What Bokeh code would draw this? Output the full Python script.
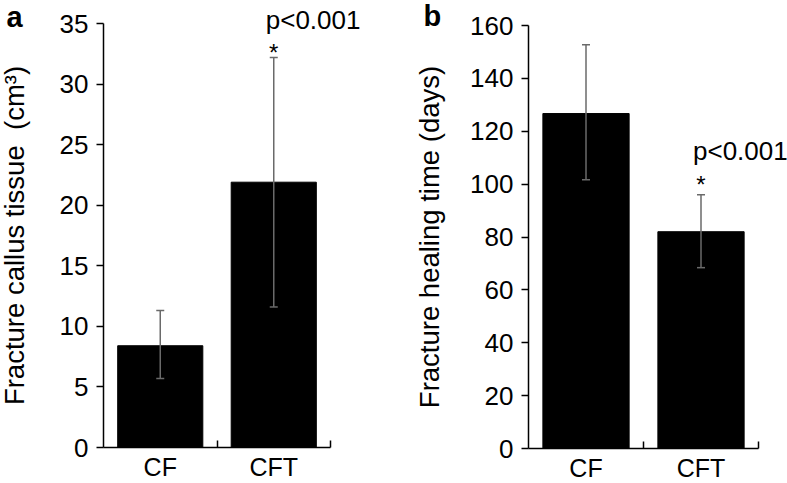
from bokeh.plotting import figure
from bokeh.models import (Range1d, FixedTicker, Whisker, TeeHead, Label,
                          ColumnDataSource, LinearAxis)
from bokeh.layouts import row
from bokeh.embed import file_html
from bokeh.resources import INLINE

# ---- data ----
categories = ["CF", "CFT"]
callus_mean = [8.4, 21.9]
callus_lower = [5.7, 11.6]
callus_upper = [11.3, 32.2]
callus_ticks = [0, 5, 10, 15, 20, 25, 30, 35]

healing_mean = [126.7, 82.0]
healing_lower = [101.7, 68.4]
healing_upper = [152.7, 96.0]
healing_ticks = [0, 20, 40, 60, 80, 100, 120, 140, 160]

p_text = "p<0.001"
star_text = "*"

FONT = "Liberation Sans"
ERR = "#6a6a6a"
H = 483


def panel(letter, ylabel, means, lower, upper, ticks, width, left, right, top,
          bottom, letter_dx, letter_dy, label_standoff, star_dy, p_dy):
    n = len(categories)
    xs = [i + 0.5 for i in range(n)]
    ymax = ticks[-1]
    # frame covers the whole canvas; axes are pinned at x=0 / y=0
    ppx = (width - left - right) / n
    ppy = (H - top - bottom) / ymax
    x_range = Range1d(-left / ppx, n + right / ppx)
    y_range = Range1d(-bottom / ppy, ymax + top / ppy)

    src = ColumnDataSource(dict(x=xs, top=means, lower=lower, upper=upper))
    p = figure(width=width, height=H, output_backend="svg", toolbar_location=None,
               x_range=x_range, y_range=y_range, min_border=0,
               x_axis_location=None, y_axis_location=None)
    p.outline_line_color = None
    p.grid.visible = False
    p.background_fill_color = "white"
    p.border_fill_color = "white"

    p.vbar(x="x", top="top", width=0.75, source=src, fill_color="black",
           line_color="black")
    w = Whisker(base="x", upper="upper", lower="lower", source=src,
                line_color=ERR, line_width=1.5, level="overlay",
                upper_head=TeeHead(size=8, line_color=ERR, line_width=1.5),
                lower_head=TeeHead(size=8, line_color=ERR, line_width=1.5))
    p.add_layout(w)

    xa = LinearAxis(fixed_location=0, bounds=(0, n))
    xa.ticker = FixedTicker(ticks=xs, minor_ticks=[i + 1 for i in range(n)])
    xa.major_label_overrides = {x: c for x, c in zip(xs, categories)}
    xa.major_tick_in = 0
    xa.major_tick_out = 0
    xa.minor_tick_in = 7
    xa.minor_tick_out = 0
    xa.minor_tick_line_width = 1.5
    xa.axis_line_width = 1.5
    xa.major_label_standoff = 5
    xa.major_label_text_font = FONT
    xa.major_label_text_font_size = "25px"
    xa.major_label_text_color = "black"
    p.add_layout(xa, "below")

    ya = LinearAxis(fixed_location=0, bounds=(0, ymax))
    ya.ticker = FixedTicker(ticks=ticks, minor_ticks=[])
    ya.major_tick_in = 0
    ya.major_tick_out = 7
    ya.major_tick_line_width = 1.5
    ya.axis_line_width = 1.5
    ya.major_label_standoff = 8
    ya.major_label_text_font = FONT
    ya.major_label_text_font_size = "26px"
    ya.major_label_text_color = "black"
    ya.axis_label = ylabel
    ya.axis_label_text_font = FONT
    ya.axis_label_text_font_size = "27.5px"
    ya.axis_label_text_font_style = "normal"
    ya.axis_label_text_color = "black"
    ya.axis_label_standoff = label_standoff
    p.add_layout(ya, "left")

    p.add_layout(Label(x=0, y=ymax, text=letter, x_offset=letter_dx,
                       y_offset=letter_dy, text_font=FONT, text_font_size="29px",
                       text_font_style="bold", text_baseline="alphabetic",
                       text_align="left", text_color="black"))
    # significance markers on the second group
    p.add_layout(Label(x=xs[1], y=upper[1], text=star_text, text_font=FONT,
                       text_font_size="24px", text_align="center",
                       text_baseline="alphabetic", text_color="black",
                       y_offset=star_dy))
    p.add_layout(Label(x=xs[1], y=upper[1], text=p_text, text_font=FONT,
                       text_font_size="26px", text_align="left", x_offset=-8,
                       text_baseline="alphabetic", text_color="black", y_offset=p_dy))
    return p


pa = panel("a", "Fracture callus tissue \u00a0(cm³)", callus_mean, callus_lower,
           callus_upper, callus_ticks, 400, 103, 70, 23, 36, -97, 7, 27, 5, 37)
pb = panel("b", "Fracture healing time (days)", healing_mean, healing_lower,
           healing_upper, healing_ticks, 387, 128, 29, 25, 35, -105, 10, 22, 10, 44)

layout = row(pa, pb)
open("out.html", "w").write(file_html(layout, INLINE))
